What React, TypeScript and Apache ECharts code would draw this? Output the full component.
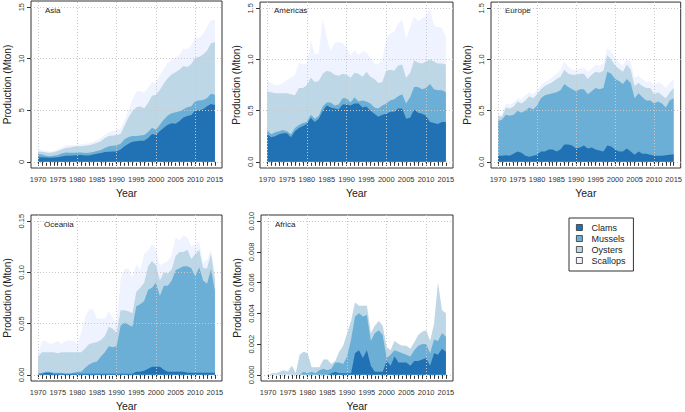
import React, { useEffect, useRef } from 'react';
import * as echarts from 'echarts';

const years = [
  1970, 1971, 1972, 1973, 1974, 1975, 1976, 1977, 1978, 1979,
  1980, 1981, 1982, 1983, 1984, 1985, 1986, 1987, 1988, 1989,
  1990, 1991, 1992, 1993, 1994, 1995, 1996, 1997, 1998, 1999,
  2000, 2001, 2002, 2003, 2004, 2005, 2006, 2007, 2008, 2009,
  2010, 2011, 2012, 2013, 2014, 2015,
];
const labelYears = [1970, 1975, 1980, 1985, 1990, 1995, 2000, 2005, 2010, 2015];
const gridYears = [1970, 1980, 1990, 2000, 2010];
const species = ['Clams', 'Mussels', 'Oysters', 'Scallops'];
const colors = ['#2171B5', '#6BAED6', '#BDD7E7', '#EFF3FF'];

// ---- Asia (Mton)
const asiaClams = [
  0.45, 0.45, 0.42, 0.40, 0.42, 0.45, 0.52, 0.58, 0.60, 0.62,
  0.65, 0.65, 0.62, 0.62, 0.70, 0.78, 0.85, 0.95, 0.98, 1.00,
  1.00, 1.20, 1.50, 1.75, 1.95, 2.00, 2.05, 2.05, 2.30, 2.70,
  2.60, 3.00, 3.30, 3.60, 3.75, 3.70, 3.95, 4.30, 4.45, 4.55,
  5.00, 5.00, 5.10, 5.40, 5.60, 5.50,
];
const asiaMussels = [
  0.30, 0.27, 0.18, 0.15, 0.16, 0.20, 0.28, 0.32, 0.28, 0.26,
  0.25, 0.25, 0.23, 0.26, 0.25, 0.27, 0.30, 0.40, 0.52, 0.55,
  0.60, 0.55, 0.70, 0.65, 0.55, 0.50, 0.50, 0.55, 0.60, 0.60,
  0.50, 0.60, 0.80, 0.90, 0.95, 1.10, 0.95, 0.80, 0.85, 0.85,
  0.90, 0.95, 0.90, 0.80, 1.00, 1.00,
];
const asiaOysters = [
  0.25, 0.26, 0.30, 0.33, 0.34, 0.40, 0.40, 0.45, 0.52, 0.57,
  0.60, 0.60, 0.70, 0.72, 0.75, 0.80, 0.85, 0.95, 1.00, 1.00,
  1.00, 0.95, 1.30, 1.90, 2.40, 2.80, 2.85, 2.60, 2.80, 3.10,
  3.40, 3.40, 3.50, 3.60, 3.80, 3.90, 4.05, 4.20, 3.90, 4.10,
  4.20, 4.25, 4.40, 4.60, 4.90, 5.10,
];
const asiaScallops = [
  0.20, 0.17, 0.15, 0.12, 0.13, 0.20, 0.20, 0.25, 0.20, 0.15,
  0.15, 0.20, 0.20, 0.20, 0.25, 0.25, 0.30, 0.30, 0.40, 0.45,
  0.50, 0.50, 0.50, 0.70, 1.10, 1.50, 1.50, 1.50, 1.50, 1.30,
  1.20, 1.40, 1.40, 1.50, 1.40, 1.40, 1.45, 1.70, 1.70, 1.80,
  2.00, 1.80, 2.00, 2.30, 2.20, 2.20,
];

// ---- Americas
const amClams = [
  0.27, 0.24, 0.25, 0.27, 0.28, 0.28, 0.24, 0.30, 0.33, 0.35,
  0.37, 0.43, 0.39, 0.42, 0.50, 0.55, 0.53, 0.52, 0.51, 0.56,
  0.56, 0.55, 0.57, 0.57, 0.53, 0.54, 0.50, 0.47, 0.44, 0.46,
  0.47, 0.49, 0.49, 0.52, 0.52, 0.42, 0.43, 0.51, 0.48, 0.47,
  0.45, 0.39, 0.38, 0.37, 0.39, 0.39,
];
const amMussels = [
  0.04, 0.03, 0.04, 0.03, 0.03, 0.02, 0.03, 0.03, 0.03, 0.03,
  0.02, 0.03, 0.03, 0.03, 0.04, 0.03, 0.05, 0.03, 0.05, 0.06,
  0.06, 0.03, 0.06, 0.02, 0.07, 0.05, 0.07, 0.06, 0.08, 0.09,
  0.10, 0.11, 0.12, 0.12, 0.14, 0.15, 0.20, 0.22, 0.25, 0.24,
  0.27, 0.37, 0.33, 0.33, 0.31, 0.29,
];
const amOysters = [
  0.38, 0.41, 0.38, 0.37, 0.36, 0.37, 0.39, 0.32, 0.36, 0.34,
  0.36, 0.36, 0.36, 0.34, 0.32, 0.31, 0.30, 0.30, 0.28, 0.24,
  0.23, 0.24, 0.24, 0.27, 0.23, 0.29, 0.26, 0.28, 0.25, 0.23,
  0.32, 0.30, 0.28, 0.30, 0.29, 0.25, 0.24, 0.26, 0.24, 0.25,
  0.26, 0.24, 0.27, 0.26, 0.26, 0.27,
];
const amScallops = [
  0.10, 0.09, 0.08, 0.08, 0.10, 0.13, 0.16, 0.20, 0.25, 0.23,
  0.21, 0.37, 0.27, 0.27, 0.54, 0.32, 0.20, 0.31, 0.33, 0.30,
  0.27, 0.22, 0.22, 0.18, 0.25, 0.19, 0.19, 0.15, 0.18, 0.22,
  0.31, 0.35, 0.38, 0.41, 0.44, 0.38, 0.45, 0.43, 0.40, 0.44,
  0.45, 0.50, 0.35, 0.36, 0.35, 0.27,
];

// ---- Europe
const euClams = [
  0.06, 0.06, 0.065, 0.06, 0.08, 0.10, 0.09, 0.06, 0.05, 0.06,
  0.07, 0.10, 0.10, 0.12, 0.12, 0.10, 0.12, 0.17, 0.17, 0.16,
  0.13, 0.14, 0.16, 0.13, 0.14, 0.12, 0.11, 0.10, 0.16, 0.15,
  0.12, 0.10, 0.10, 0.13, 0.10, 0.07, 0.10, 0.08, 0.08, 0.07,
  0.06, 0.06, 0.06, 0.065, 0.07, 0.075,
];
const euMussels = [
  0.34, 0.35, 0.395, 0.39, 0.38, 0.40, 0.39, 0.44, 0.48, 0.45,
  0.48, 0.52, 0.55, 0.54, 0.55, 0.58, 0.58, 0.59, 0.56, 0.55,
  0.56, 0.57, 0.55, 0.53, 0.55, 0.60, 0.60, 0.62, 0.72, 0.71,
  0.69, 0.69, 0.66, 0.68, 0.67, 0.55, 0.57, 0.55, 0.52, 0.53,
  0.51, 0.53, 0.51, 0.465, 0.53, 0.545,
];
const euOysters = [
  0.05, 0.03, 0.07, 0.07, 0.08, 0.09, 0.09, 0.10, 0.11, 0.11,
  0.11, 0.09, 0.09, 0.10, 0.11, 0.13, 0.13, 0.14, 0.13, 0.14,
  0.16, 0.15, 0.15, 0.15, 0.16, 0.16, 0.16, 0.17, 0.16, 0.14,
  0.13, 0.12, 0.12, 0.14, 0.13, 0.12, 0.10, 0.11, 0.12, 0.12,
  0.09, 0.09, 0.08, 0.09, 0.08, 0.10,
];
const euScallops = [
  0.02, 0.02, 0.04, 0.04, 0.04, 0.03, 0.04, 0.05, 0.04, 0.04,
  0.04, 0.04, 0.04, 0.04, 0.05, 0.05, 0.07, 0.08, 0.07, 0.05,
  0.05, 0.05, 0.06, 0.07, 0.06, 0.07, 0.07, 0.07, 0.07, 0.08,
  0.08, 0.06, 0.06, 0.06, 0.07, 0.08, 0.07, 0.07, 0.06, 0.07,
  0.09, 0.10, 0.11, 0.10, 0.09, 0.09,
];

// ---- Oceania
const ocClams = [
  0.001, 0.001, 0.002, 0.002, 0.001, 0.001, 0.001, 0.001, 0.001, 0.001,
  0.001, 0.001, 0.001, 0.001, 0.001, 0.001, 0.001, 0.001, 0.001, 0.001,
  0.001, 0.001, 0.001, 0.001, 0.001, 0.003, 0.003, 0.004, 0.006, 0.008,
  0.008, 0.008, 0.005, 0.003, 0.003, 0.003, 0.003, 0.003, 0.002, 0.002,
  0.002, 0.002, 0.002, 0.002, 0.002, 0.002,
];
const ocMussels = [
  0.000, 0.001, 0.001, 0.001, 0.001, 0.001, 0.001, 0.000, 0.000, 0.001,
  0.002, 0.002, 0.006, 0.009, 0.011, 0.012, 0.017, 0.021, 0.027, 0.026,
  0.027, 0.047, 0.050, 0.048, 0.046, 0.064, 0.066, 0.068, 0.077, 0.077,
  0.082, 0.069, 0.082, 0.084, 0.089, 0.099, 0.101, 0.103, 0.104, 0.102,
  0.094, 0.103, 0.090, 0.087, 0.101, 0.080,
];
const ocOysters = [
  0.017, 0.020, 0.019, 0.019, 0.020, 0.019, 0.020, 0.021, 0.021, 0.020,
  0.019, 0.019, 0.019, 0.020, 0.019, 0.019, 0.016, 0.016, 0.019, 0.018,
  0.013, 0.015, 0.012, 0.013, 0.013, 0.014, 0.016, 0.018, 0.023, 0.026,
  0.017, 0.015, 0.013, 0.012, 0.011, 0.014, 0.016, 0.014, 0.016, 0.009,
  0.022, 0.017, 0.012, 0.015, 0.015, 0.011,
];
const ocScallops = [
  0.003, 0.011, 0.011, 0.008, 0.009, 0.012, 0.008, 0.011, 0.012, 0.011,
  0.008, 0.019, 0.031, 0.034, 0.033, 0.023, 0.021, 0.017, 0.015, 0.010,
  0.010, 0.031, 0.040, 0.042, 0.035, 0.027, 0.017, 0.028, 0.015, 0.017,
  0.015, 0.015, 0.009, 0.012, 0.014, 0.018, 0.011, 0.016, 0.012, 0.012,
  0.009, 0.008, 0.005, 0.008, 0.004, 0.007,
];

// ---- Africa
const afClams = [
  0, 0, 0, 0, 0, 0, 0, 0, 0, 0,
  0, 0, 0, 0, 0, 0, 0.0001, 0.0002, 0.0001, 0.0001,
  0.0001, 0.0001, 0.0014, 0.0016, 0.0011, 0.0016, 0.0006, 0.0002, 0.0002, 0.0002,
  0.0009, 0.0006, 0.0012, 0.0008, 0.0008, 0.0008, 0.0006, 0.0009, 0.0009, 0.0010,
  0.0011, 0.0006, 0.0014, 0.0013, 0.0017, 0.0015,
];
const afMussels = [
  0, 0, 0, 0, 0, 0, 0, 0, 0, 0.0002,
  0.0001, 0.0002, 0.0001, 0.0003, 0.0004, 0.0003, 0.0003, 0.0006, 0.0007, 0.0006,
  0.0011, 0.0022, 0.0024, 0.0024, 0.0027, 0.0023, 0.0016, 0.0025, 0.0027, 0.0024,
  0.0002, 0.0007, 0.0004, 0.0007, 0.0006, 0.0005, 0.0006, 0.0007, 0.0010, 0.0010,
  0.0009, 0.0008, 0.0009, 0.0009, 0.0010, 0.0010,
];
const afOysters = [
  0, 0.0001, 0.0001, 0.0002, 0.0003, 0.0002, 0.0006, 0.0001, 0.0013, 0.0013,
  0.0013, 0.0003, 0.0004, 0.0002, 0.0006, 0.0007, 0.0003, 0.0001, 0.0007, 0.0012,
  0.0015, 0.0012, 0.0009, 0.0005, 0.0007, 0.0006, 0.0005, 0.0005, 0.0006, 0.0006,
  0.0007, 0.0003, 0.0006, 0.0005, 0.0005, 0.0006, 0.0005, 0.0005, 0.0007, 0.0008,
  0.0009, 0.0008, 0.0010, 0.0038, 0.0015, 0.0015,
];
const afScallops = [
  0, 0, 0, 0, 0, 0, 0, 0, 0, 0,
  0, 0, 0, 0, 0, 0, 0, 0, 0, 0,
  0, 0, 0, 0, 0, 0, 0, 0, 0, 0,
  0, 0, 0, 0, 0, 0, 0, 0, 0, 0,
  0, 0, 0, 0, 0, 0,
];

const asiaTicks = [0, 5, 10, 15];
const amTicks = [0, 0.5, 1.0, 1.5];
const euTicks = [0, 0.5, 1.0, 1.5];
const ocTicks = [0, 0.05, 0.1, 0.15];
const afTicks = [0, 0.002, 0.004, 0.006, 0.008, 0.01];

const FONT = '"Liberation Sans", Arial, Helvetica, sans-serif';

const panels = [
  { title: 'Asia', series: [asiaClams, asiaMussels, asiaOysters, asiaScallops], ticks: asiaTicks, digits: 0,
    yMin: -0.6, yMax: 15.6, box: { left: 31, top: 1, width: 191, height: 167 }, tx: 45, ty: 6 },
  { title: 'Americas', series: [amClams, amMussels, amOysters, amScallops], ticks: amTicks, digits: 1,
    yMin: -0.06, yMax: 1.56, box: { left: 260, top: 1, width: 193, height: 167 }, tx: 274, ty: 6 },
  { title: 'Europe', series: [euClams, euMussels, euOysters, euScallops], ticks: euTicks, digits: 1,
    yMin: -0.06, yMax: 1.56, box: { left: 491, top: 1, width: 192, height: 167 }, tx: 505, ty: 6 },
  { title: 'Oceania', series: [ocClams, ocMussels, ocOysters, ocScallops], ticks: ocTicks, digits: 2,
    yMin: -0.006, yMax: 0.156, box: { left: 31, top: 215, width: 191, height: 168 }, tx: 44, ty: 220 },
  { title: 'Africa', series: [afClams, afMussels, afOysters, afScallops], ticks: afTicks, digits: 3,
    yMin: -0.0004, yMax: 0.0104, box: { left: 261, top: 215, width: 192, height: 168 }, tx: 275, ty: 220 },
];

export default function App() {
  const ref = useRef<HTMLDivElement>(null);
  useEffect(() => {
    document.body.style.margin = '0';
    const chart = echarts.init(ref.current!, undefined, { renderer: 'svg' });
    const grid = panels.map((p) => ({
      ...p.box,
      show: true,
      borderColor: '#333',
      borderWidth: 1,
      backgroundColor: 'transparent',
    }));
    const xAxis = panels.map((p, i) => ({
      type: 'value',
      gridIndex: i,
      min: 1968.2,
      max: 2016.8,
      axisLine: { show: false },
      splitLine: { show: false },
      axisTick: { show: true, customValues: years, length: 4, lineStyle: { color: '#333', width: 1 } },
      axisLabel: {
        customValues: labelYears,
        fontSize: 7.5,
        fontFamily: FONT,
        color: '#333',
        margin: 7,
        formatter: (v: number) => String(Math.round(v)),
      },
      name: 'Year',
      nameLocation: 'middle',
      nameGap: 19,
      nameTextStyle: { fontSize: 10.5, fontFamily: FONT, color: '#222' },
    }));
    const yAxis = panels.map((p, i) => ({
      type: 'value',
      gridIndex: i,
      min: p.yMin,
      max: p.yMax,
      axisLine: { show: false },
      splitLine: { show: false },
      axisTick: { show: true, customValues: p.ticks, length: 4, lineStyle: { color: '#333', width: 1 } },
      axisLabel: {
        customValues: p.ticks,
        rotate: 90,
        fontSize: 7.5,
        fontFamily: FONT,
        color: '#333',
        margin: 6,
        formatter: (v: number) => v.toFixed(p.digits),
      },
      name: 'Production (Mton)',
      nameLocation: 'middle',
      nameRotate: 90,
      nameGap: 19,
      nameTextStyle: { fontSize: 10, fontFamily: FONT, color: '#222' },
    }));
    const series: any[] = [];
    panels.forEach((p, i) => {
      // running stack: level j = sum of species 0..j (stacked area tops)
      const levels: number[][] = [];
      p.series.forEach((vals, j) => {
        levels.push(vals.map((v, k) => v + (j > 0 ? levels[j - 1][k] : 0)));
      });
      // draw from the top layer down so each lower layer covers the one above it
      for (let j = p.series.length - 1; j >= 0; j--) {
        const s: any = {
          type: 'line',
          name: species[j],
          xAxisIndex: i,
          yAxisIndex: i,
          data: years.map((y, k) => [y, levels[j][k]]),
          symbol: 'none',
          showSymbol: false,
          lineStyle: { width: 0 },
          areaStyle: { color: colors[j], opacity: 1, origin: 0 },
          itemStyle: { color: colors[j] },
          emphasis: { disabled: true },
          silent: true,
        };
        if (j === 0) {
          s.markLine = {
            silent: true,
            symbol: ['none', 'none'],
            label: { show: false },
            emphasis: { disabled: true },
            lineStyle: { color: '#c9c9c9', type: [1, 2], width: 1 },
            data: [
              ...gridYears.map((x) => ({ xAxis: x })),
              ...p.ticks.map((t) => ({ yAxis: t })),
            ],
          };
        }
        series.push(s);
      }
    });
    const option: any = {
      animation: false,
      textStyle: { fontFamily: FONT },
      grid,
      xAxis,
      yAxis,
      series,
      legend: {
        data: species,
        orient: 'vertical',
        left: 569,
        top: 218,
        icon: 'rect',
        itemWidth: 6,
        itemHeight: 6,
        itemGap: 0,
        padding: [4, 8, 5, 7],
        borderColor: '#333',
        borderWidth: 1,
        backgroundColor: '#fff',
        selectedMode: false,
        itemStyle: { borderColor: '#333', borderWidth: 0.8 },
        textStyle: { fontSize: 9, fontFamily: FONT, color: '#222', lineHeight: 11, padding: [0, 0, 0, 4] },
      },
      graphic: panels.map((p) => ({
        type: 'text',
        left: p.tx,
        top: p.ty,
        style: { text: p.title, font: `8px ${FONT}`, fill: '#222' },
        silent: true,
      })),
    };
    chart.setOption(option);
    return () => chart.dispose();
  }, []);
  return (
    <div
      ref={ref}
      style={{ position: 'absolute', left: 0, top: 0, width: 685, height: 412 }}
    />
  );
}
